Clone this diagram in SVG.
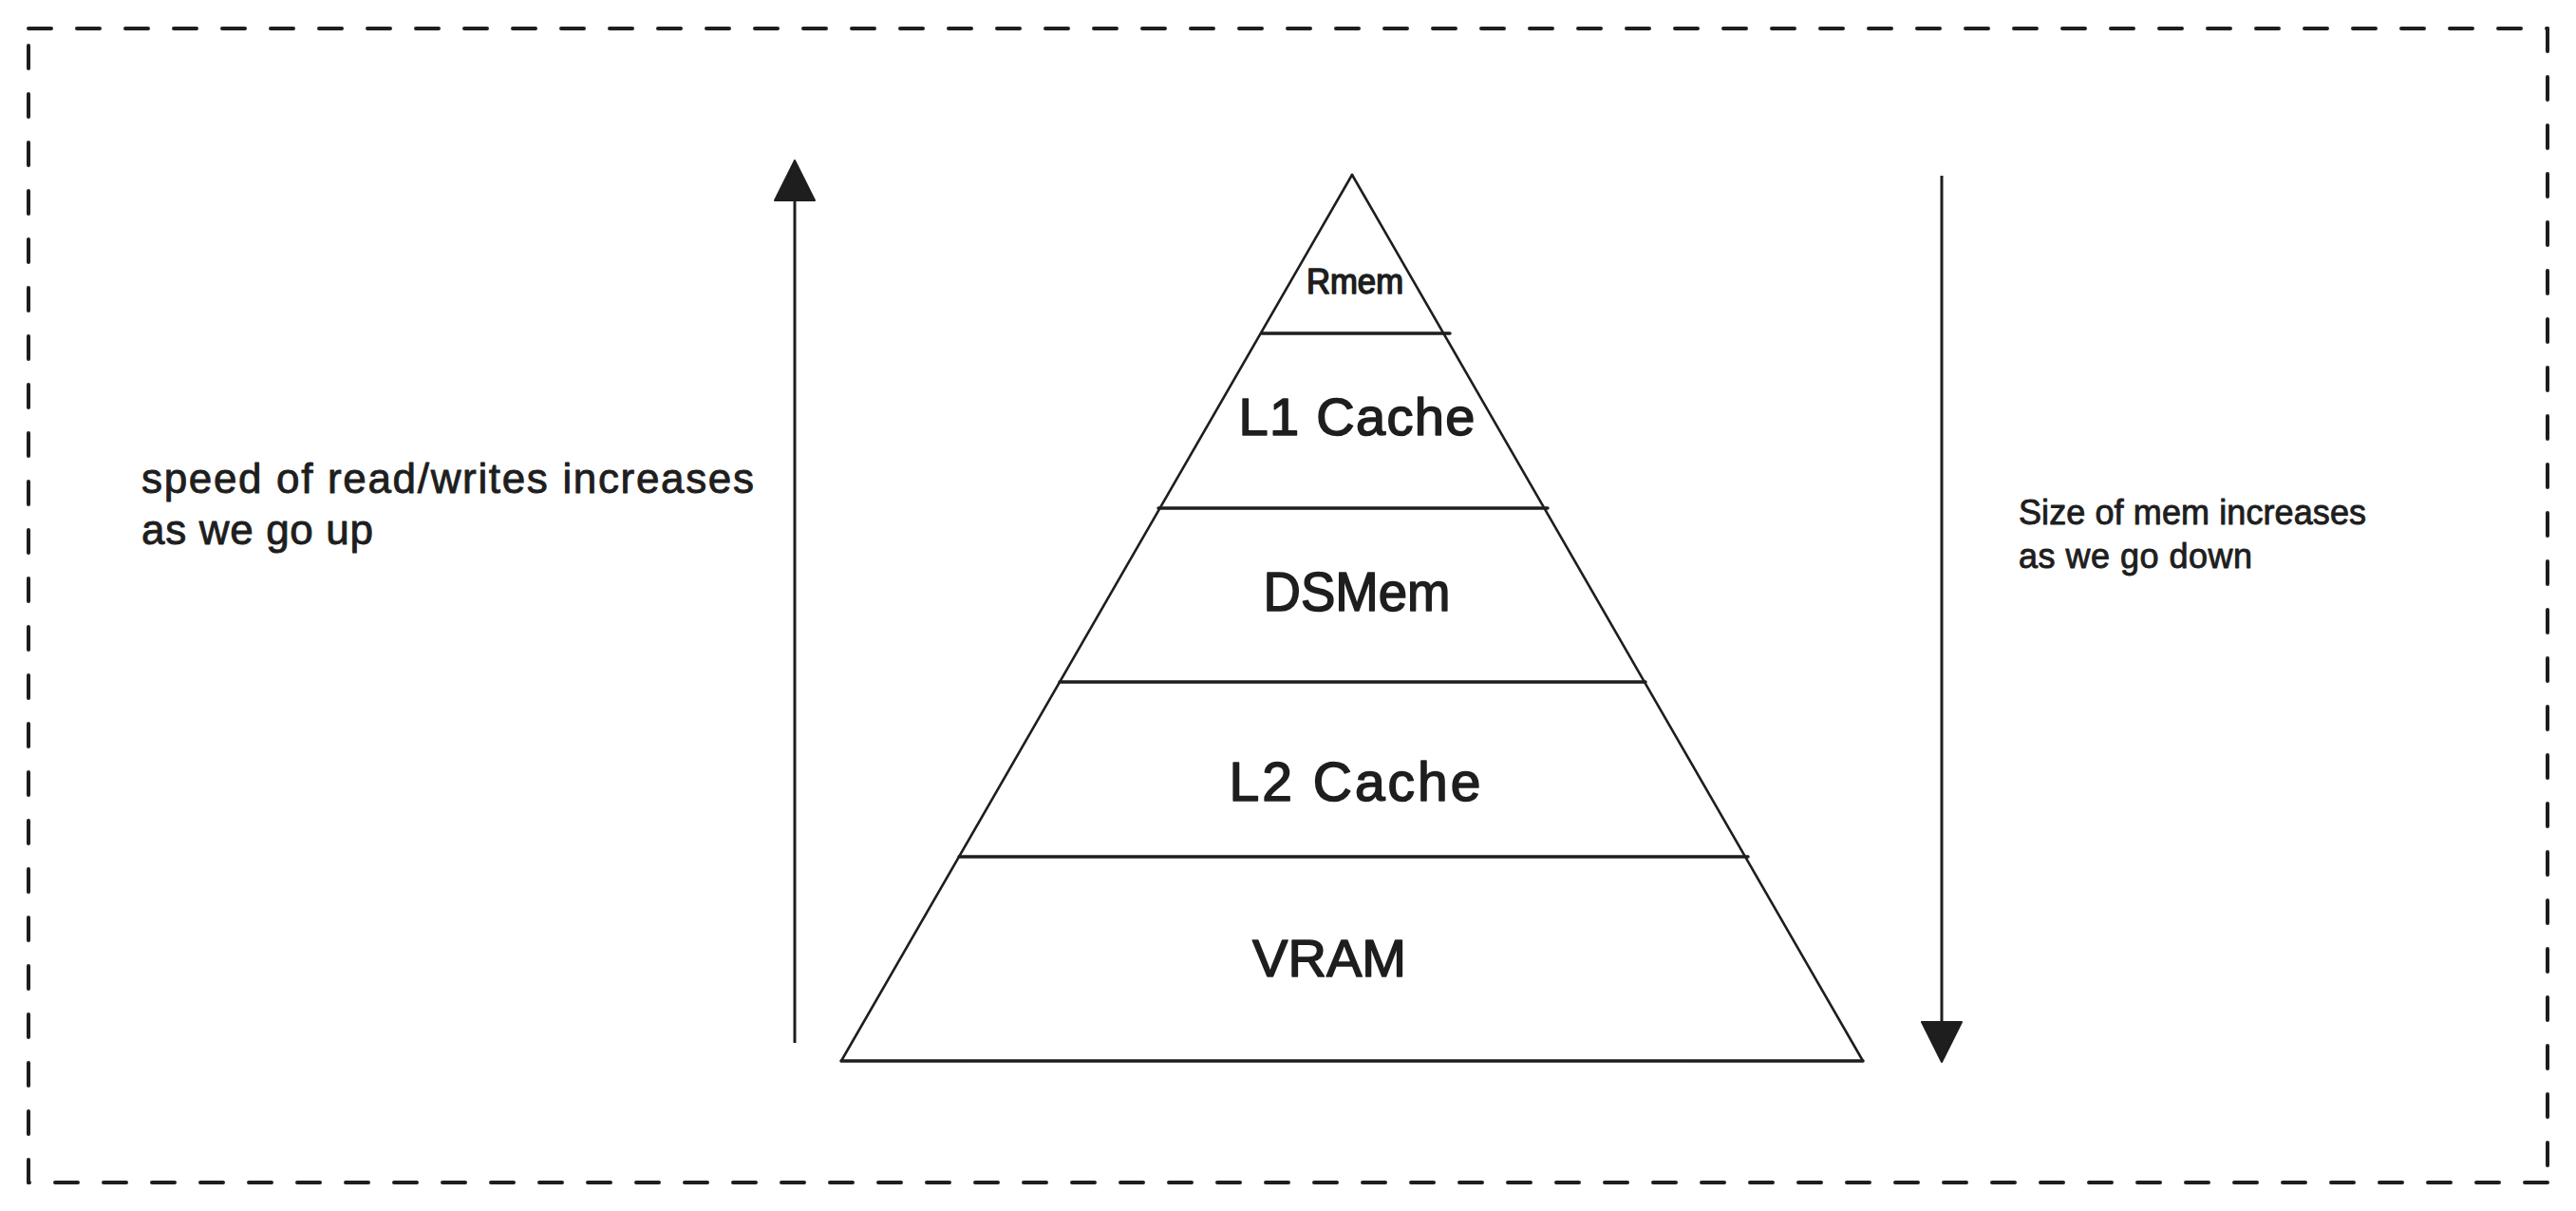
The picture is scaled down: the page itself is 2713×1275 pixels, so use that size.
<svg xmlns="http://www.w3.org/2000/svg" width="2713" height="1275" viewBox="0 0 2713 1275">
  <style>
    .frame { fill: none; stroke: #1e1e1e; stroke-width: 4; stroke-dasharray: 24 27; stroke-linecap: round; }
    .edge { fill: none; stroke: #1e1e1e; stroke-width: 2.6; stroke-linecap: round; }
    .divider { fill: none; stroke: #1e1e1e; stroke-width: 3.4; stroke-linecap: round; }
    .layer { fill: #ffffff; stroke: none; }
    .shaft { fill: none; stroke: #1e1e1e; stroke-width: 3; }
    .lbl { font-family: "Liberation Sans", Arial, sans-serif; fill: #1e1e1e; stroke: #1e1e1e; stroke-width: 1.6; stroke-linejoin: round; text-anchor: middle; }
    .note { font-family: "Liberation Sans", Arial, sans-serif; fill: #1e1e1e; stroke: #1e1e1e; stroke-width: 0.9; stroke-linejoin: round; }
  </style>
  <defs>
    <marker id="head" markerUnits="userSpaceOnUse" viewBox="0 0 44 44" markerWidth="44" markerHeight="44" refX="1" refY="22" orient="auto">
      <path d="M1,1 L43,22 L1,43 Z" fill="#1e1e1e" stroke="#1e1e1e" stroke-width="2" stroke-linejoin="round"/>
    </marker>
  </defs>
  <rect width="2713" height="1275" fill="#ffffff"/>

  <g id="frame">
    <line class="frame" x1="30" y1="30" x2="2683" y2="30"/>
    <line class="frame" x1="2683" y1="30" x2="2683" y2="1245"/>
    <line class="frame" x1="2683" y1="1245" x2="30" y2="1245"/>
    <line class="frame" x1="30" y1="1245" x2="30" y2="30"/>
  </g>

  <g id="node-rmem">
    <polygon class="layer" points="1424,184 1520,351 1328,351"/>
    <text class="lbl" x="1427" y="309" font-size="36" textLength="102" lengthAdjust="spacingAndGlyphs">Rmem</text>
  </g>
  <g id="node-l1">
    <polygon class="layer" points="1328,351 1520,351 1626,535 1222,535"/>
    <text class="lbl" x="1429" y="458" font-size="56" textLength="249" lengthAdjust="spacing">L1 Cache</text>
  </g>
  <g id="node-dsmem">
    <polygon class="layer" points="1222,535 1626,535 1732,718 1116,718"/>
    <text class="lbl" x="1429" y="643" font-size="57" textLength="197" lengthAdjust="spacingAndGlyphs">DSMem</text>
  </g>
  <g id="node-l2">
    <polygon class="layer" points="1116,718 1732,718 1838,902 1010,902"/>
    <text class="lbl" x="1427" y="843" font-size="57" textLength="265" lengthAdjust="spacing">L2 Cache</text>
  </g>
  <g id="node-vram">
    <polygon class="layer" points="1010,902 1838,902 1962,1117 886,1117"/>
    <text class="lbl" x="1400" y="1028" font-size="56" textLength="162" lengthAdjust="spacingAndGlyphs">VRAM</text>
  </g>

  <g id="pyramid">
    <line class="edge" x1="1424" y1="184" x2="886" y2="1117"/>
    <line class="edge" x1="1424" y1="184" x2="1962" y2="1117"/>
    <line class="divider" x1="886" y1="1117" x2="1962" y2="1117"/>
    <line class="divider" x1="1329" y1="351" x2="1527" y2="351"/>
    <line class="divider" x1="1220" y1="535" x2="1630" y2="535"/>
    <line class="divider" x1="1116" y1="718" x2="1733" y2="718"/>
    <line class="divider" x1="1010" y1="902" x2="1841" y2="902"/>
  </g>

  <g id="connectors">
    <line class="shaft" x1="837" y1="1098" x2="837" y2="211" marker-end="url(#head)"/>
    <line class="shaft" x1="2045" y1="185" x2="2045" y2="1076" marker-end="url(#head)"/>
  </g>

  <g id="label-speed">
    <text class="note" x="149" y="519" font-size="44" textLength="645" lengthAdjust="spacing">speed of read/writes increases</text>
    <text class="note" x="149" y="573" font-size="44" textLength="244" lengthAdjust="spacing">as we go up</text>
  </g>
  <g id="label-size">
    <text class="note" x="2126" y="552" font-size="36" textLength="366" lengthAdjust="spacing">Size of mem increases</text>
    <text class="note" x="2126" y="598" font-size="36" textLength="246" lengthAdjust="spacing">as we go down</text>
  </g>
</svg>
